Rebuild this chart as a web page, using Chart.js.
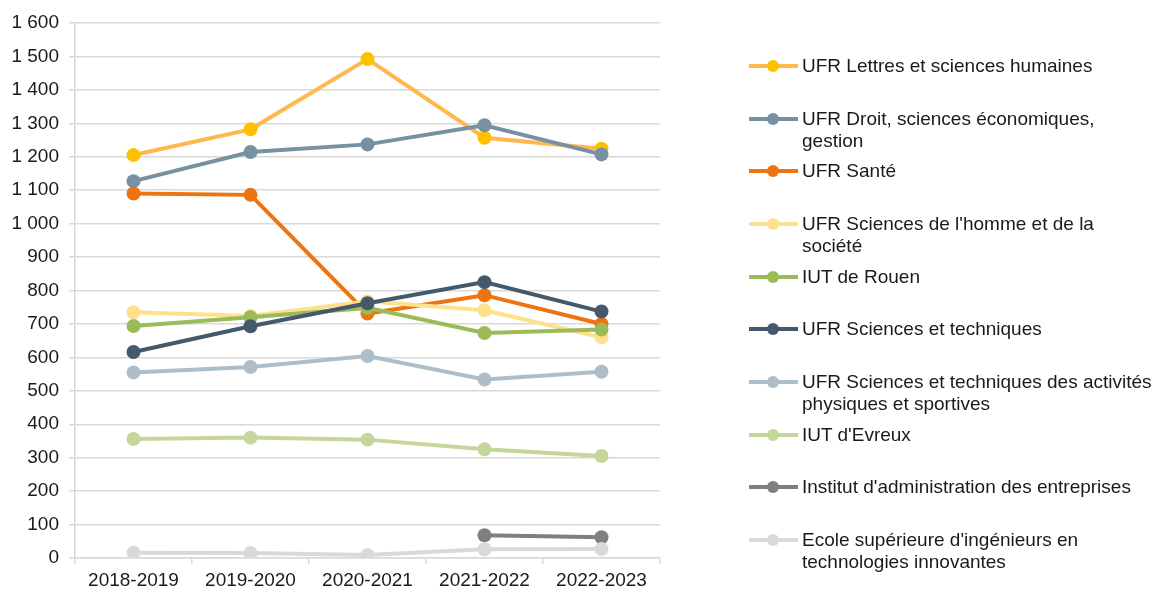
<!DOCTYPE html>
<html>
<head>
<meta charset="utf-8">
<script src="https://cdn.jsdelivr.net/npm/chart.js@4"></script>
<style>
  html, body { margin: 0; padding: 0; background: #fff; overflow: hidden; }
  #wrap { position: relative; width: 1157px; height: 590px; overflow: hidden; }
  #legend { position: absolute; left: 749px; top: 0; font: 19px "Liberation Sans", Arial, sans-serif; color: #1a1a1a; }
  .item { position: absolute; left: 0; white-space: pre; line-height: 22px; }
  .sw { position: absolute; left: 0; top: 9px; width: 49px; height: 4px; }
  .dot { position: absolute; left: 18px; top: -4px; width: 12px; height: 12px; border-radius: 50%; }
  .txt { position: absolute; left: 53px; top: 0; }
</style>
</head>
<body>
<div id="wrap">
  <canvas id="chart" width="1157" height="590"></canvas>
  <div id="legend"></div>
</div>
<script>
// Années universitaires
const annees = ['2018-2019', '2019-2020', '2020-2021', '2021-2022', '2022-2023'];

// Effectifs par composante
const lettres       = [1205, 1282, 1492, 1257, 1224];
const droit         = [1127, 1214, 1237, 1294, 1207];
const sante         = [1090, 1086, 731, 786, 700];
const sciencesHomme = [735, 724, 768, 741, 660];
const iutRouen      = [694, 720, 748, 673, 683];
const sciencesTech  = [616, 693, 762, 825, 737];
const staps         = [555, 571, 604, 534, 557];
const iutEvreux     = [356, 360, 354, 325, 305];
const iae           = [null, null, null, 68, 62];
const esitech       = [16, 15, 9, 26, 27];

const yTicks = [0, 100, 200, 300, 400, 500, 600, 700, 800, 900, 1000, 1100, 1200, 1300, 1400, 1500, 1600];

const series = [
  { nom: 'UFR Lettres et sciences humaines', data: lettres, ligne: '#ffb84d', point: '#ffc000' },
  { nom: 'UFR Droit, sciences économiques,\ngestion', data: droit, ligne: '#7691a1', point: '#7691a1' },
  { nom: 'UFR Santé', data: sante, ligne: '#ed7410', point: '#ed7410' },
  { nom: "UFR Sciences de l'homme et de la\nsociété", data: sciencesHomme, ligne: '#ffe08c', point: '#ffe08c' },
  { nom: 'IUT de Rouen', data: iutRouen, ligne: '#9bbb59', point: '#9bbb59' },
  { nom: 'UFR Sciences et techniques', data: sciencesTech, ligne: '#44596b', point: '#44596b' },
  { nom: 'UFR Sciences et techniques des activités\nphysiques et sportives', data: staps, ligne: '#adbec9', point: '#adbec9' },
  { nom: "IUT d'Evreux", data: iutEvreux, ligne: '#c4d79b', point: '#c4d79b' },
  { nom: "Institut d'administration des entreprises", data: iae, ligne: '#7f7f7f', point: '#7f7f7f' },
  { nom: "Ecole supérieure d'ingénieurs en\ntechnologies innovantes", data: esitech, ligne: '#d9d9d9', point: '#d9d9d9' }
];

const police = '"Liberation Sans", Arial, sans-serif';
const grille = '#d9d9d9';

const datasets = series.map((s, i) => ({
  label: s.nom,
  data: s.data,
  borderColor: s.ligne,
  backgroundColor: s.point,
  pointBackgroundColor: s.point,
  pointBorderWidth: 0,
  pointRadius: 7,
  borderWidth: 4,
  tension: 0,
  spanGaps: false,
  order: series.length - i // les dernières séries par-dessus
}));

new Chart(document.getElementById('chart'), {
  type: 'line',
  data: { labels: annees, datasets: datasets },
  options: {
    responsive: false,
    animation: false,
    layout: { padding: { left: 0, right: 497, top: 23, bottom: 0 } },
    plugins: { legend: { display: false }, tooltip: { enabled: false } },
    scales: {
      x: {
        offset: true,
        grid: { display: true, drawOnChartArea: false, offset: true, color: grille, lineWidth: 1.5, tickLength: 6 },
        border: { display: true, color: grille, width: 1.5 },
        ticks: { color: '#1a1a1a', font: { family: police, size: 19 }, padding: 5, maxRotation: 0 },
        afterFit: (scale) => { scale.height = 32; }
      },
      y: {
        min: 0,
        max: 1600,
        afterBuildTicks: (scale) => { scale.ticks = yTicks.map(v => ({ value: v })); },
        grid: { color: grille, lineWidth: 1.5, tickLength: 6 },
        border: { display: true, color: grille, width: 1.5 },
        ticks: {
          color: '#1a1a1a',
          font: { family: police, size: 19 },
          padding: 10,
          callback: (v) => String(v).replace(/\B(?=(\d{3})+(?!\d))/g, ' ')
        },
        afterFit: (scale) => { scale.width = 75; }
      }
    }
  }
});

// Légende à droite (libellés sur deux lignes)
const legend = document.getElementById('legend');
series.forEach((s, i) => {
  const item = document.createElement('div');
  item.className = 'item';
  item.style.top = (55 + i * 52.65) + 'px';
  item.innerHTML = `<div class="sw" style="background:${s.ligne}"><div class="dot" style="background:${s.point}"></div></div>` +
    `<div class="txt"></div>`;
  item.querySelector('.txt').textContent = s.nom;
  legend.appendChild(item);
});
</script>
</body>
</html>
